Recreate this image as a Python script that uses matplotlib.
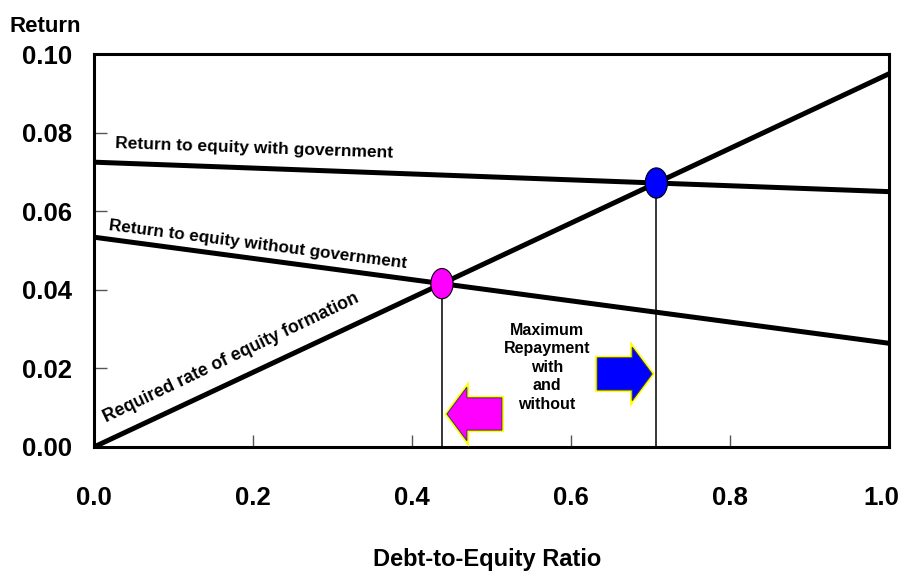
# debt-to-equity chart: required rate vs returns to equity
import numpy as np
import matplotlib
matplotlib.use('Agg')
import matplotlib.pyplot as plt
import matplotlib.transforms as mtransforms
from matplotlib.patches import Ellipse, FancyArrow

plt.rcParams['font.family'] = ['Liberation Sans', 'DejaVu Sans']
plt.rcParams['font.weight'] = 'bold'

# line end points at debt-to-equity 0 and 1
x_ends = [0.0, 1.0]
required_rate = [0.0, 0.095]
with_gov = [0.0725, 0.065]
without_gov = [0.0534, 0.0264]

x_ticks = [0.0, 0.2, 0.4, 0.6, 0.8, 1.0]
y_ticks = [0.00, 0.02, 0.04, 0.06, 0.08, 0.10]


def crossing(a, b):
    """Intersection of two straight lines given by their end values at x=0 and x=1."""
    sa = a[1] - a[0]
    sb = b[1] - b[0]
    x = (b[0] - a[0]) / (sa - sb)
    return x, a[0] + sa * x


x_pink, y_pink = crossing(required_rate, without_gov)
x_blue, y_blue = crossing(required_rate, with_gov)

fig = plt.figure(figsize=(9.04, 5.76), dpi=100)
ax = fig.add_axes([0.104, 0.224, 0.8794, 0.682])

ax.plot(x_ends, required_rate, color='black', lw=3.6, solid_capstyle='butt', zorder=3)
ax.plot(x_ends, with_gov, color='black', lw=3.6, solid_capstyle='butt', zorder=3)
ax.plot(x_ends, without_gov, color='black', lw=3.6, solid_capstyle='butt', zorder=3)

# drop lines from the two crossings
ax.vlines([x_pink, x_blue], 0, [y_pink, y_blue], color='black', lw=1.1, zorder=2)

ax.add_patch(Ellipse((x_pink, y_pink), 0.028, 0.0077, fc='#ff00ff', ec='black', lw=0.8, zorder=5))
ax.add_patch(Ellipse((x_blue, y_blue), 0.028, 0.0077, fc='#0000ff', ec='black', lw=0.8, zorder=5))

# block arrows
for x0, y0, dx, col in [(0.513, 0.0084, -0.069, '#ff00ff'), (0.633, 0.0186, 0.069, '#0000ff')]:
    ax.add_patch(FancyArrow(x0, y0, dx, 0, width=0.0082, head_width=0.0136, head_length=0.025,
                            length_includes_head=True, fc=col, ec='#ffff00', lw=3, zorder=4))
    ax.add_patch(FancyArrow(x0, y0, dx, 0, width=0.0082, head_width=0.0136, head_length=0.025,
                            length_includes_head=True, fc=col, ec='#333366', lw=0.7, zorder=4))

ax.text(0.026, 0.0762, 'Return to equity with government', fontsize=12.5, rotation=-2,
        rotation_mode='anchor', ha='left', va='baseline')
ax.text(0.018, 0.0552, 'Return to equity without government', fontsize=12.3, rotation=-7.3,
        rotation_mode='anchor', ha='left', va='baseline')
ax.text(0.016, 0.0062, 'Required rate of equity formation', fontsize=12.8, rotation=25.5,
        rotation_mode='anchor', ha='left', va='baseline')
ax.text(0.570, 0.0203, 'Maximum\nRepayment\nwith\nand\nwithout', fontsize=11.5,
        ha='center', va='center', linespacing=1.3)

ax.set_xlim(0, 1)
ax.set_ylim(0, 0.10)
ax.set_xticks(x_ticks)
ax.set_yticks(y_ticks)
ax.set_xticklabels(['%.1f' % v for v in x_ticks])
ax.set_yticklabels(['%.2f' % v for v in y_ticks])
ax.tick_params(axis='both', direction='in', length=9, width=1, color='#555555', labelsize=18.5)
ax.tick_params(axis='x', pad=28)
ax.tick_params(axis='y', pad=16)
for s in ax.spines.values():
    s.set_linewidth(2.2)

# last x label sits a little inside the figure edge
last = ax.get_xticklabels()[-1]
last.set_transform(last.get_transform() + mtransforms.ScaledTranslation(-8 / 100, 0, fig.dpi_scale_trans))

fig.text(0.011, 0.944, 'Return', fontsize=16, ha='left', va='baseline')
fig.text(0.539, 0.018, 'Debt-to-Equity Ratio', fontsize=17, ha='center', va='baseline')

fig.savefig('out.png', dpi=100)
